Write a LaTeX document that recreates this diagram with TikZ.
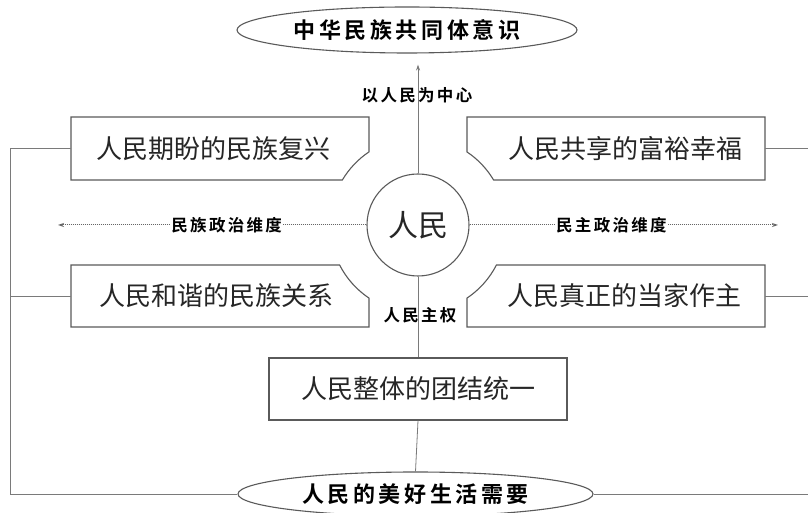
\documentclass[tikz,border=0pt]{standalone}
\usepackage{fontspec}
\usetikzlibrary{shapes.geometric,arrows.meta}
\newfontfamily\cjk{Noto Sans CJK SC}
\newfontfamily\cjktitle{Noto Sans CJK SC}[UprightFont=* Bold,LetterSpace=16]
\newfontfamily\cjksmall{Noto Sans CJK SC}[UprightFont=* Bold,LetterSpace=14]
\definecolor{linegray}{HTML}{7A7A7A}
\definecolor{dotgray}{HTML}{666666}
\definecolor{boxgray}{HTML}{5A5A5A}
\definecolor{textdark}{HTML}{262626}
\begin{document}
\begin{tikzpicture}[x=1pt,y=1pt,
  boxarea/.style={minimum width=298pt,minimum height=62pt,inner sep=0pt},
  boxline/.style={draw=boxgray,line width=1.1pt},
  conn/.style={draw=linegray,line width=0.8pt},
  tip/.style={-{Stealth[length=6pt,width=4pt]}},
  dimarrow/.style={draw=dotgray,densely dotted,line width=1pt,tip},
  boxtext/.style={font={\cjk\fontsize{26pt}{30pt}\selectfont},text=textdark,inner sep=0pt},
  titletext/.style={font={\cjktitle\fontsize{22pt}{26pt}\selectfont},text=black},
  smalllabel/.style={font={\cjksmall\fontsize{16.5pt}{19pt}\selectfont},text=black,inner sep=1pt}
]
\fill[white] (0,0) rectangle (808,513);
\useasboundingbox (0,0) rectangle (808,513);

% center circle
\node[circle,draw=boxgray,line width=1.1pt,minimum size=102pt,inner sep=0pt,
      font={\cjk\fontsize{30pt}{34pt}\selectfont},text=textdark] (c) at (418,288) {人民};

% ellipses
\node[ellipse,draw=boxgray,line width=1.1pt,minimum width=340pt,minimum height=46pt,
      inner sep=0pt,titletext] (top) at (407,483) {中华民族共同体意识};
\node[ellipse,draw=boxgray,line width=1.1pt,minimum width=355pt,minimum height=44pt,
      inner sep=0pt,titletext] (bot) at (415.5,19) {人民的美好生活需要};

% boxes (areas + text)
\node[boxarea,label={[boxtext,xshift=-7pt]center:人民期盼的民族复兴}] (tl) at (220,364.5) {};
\node[boxarea,label={[boxtext,xshift=9pt]center:人民共享的富裕幸福}] (tr) at (616,364.5) {};
\node[boxarea,label={[boxtext,xshift=-4pt]center:人民和谐的民族关系}] (bl) at (220,217) {};
\node[boxarea,label={[boxtext,xshift=8pt]center:人民真正的当家作主}] (br) at (616,217) {};
\node[boxarea,boxline,boxtext] (bc) at (418,124) {人民整体的团结统一};

% box outlines with concave notches
\draw[boxline] (71,396) -- (369,396) -- (369,361.1)
  arc[start angle=123.8,end angle=149.2,radius=88] -- (71,333) -- cycle;
\draw[boxline] (467,396) -- (765,396) -- (765,333) -- (493.6,333)
  arc[start angle=30.8,end angle=56.2,radius=88] -- cycle;
\draw[boxline] (71,248) -- (339.6,248)
  arc[start angle=207.04,end angle=236.2,radius=88] -- (369,186) -- (71,186) -- cycle;
\draw[boxline] (467,214.9) arc[start angle=303.8,end angle=332.96,radius=88]
  -- (765,248) -- (765,186) -- (467,186) -- cycle;

% vertical axis
\draw[conn,tip,shorten >=11pt] (c.north) -- (c.north |- top.south);
\node[smalllabel] (l1) at (417,418) {以人民为中心};
\draw[conn] (c.south) -- (bc.north);
\node[smalllabel] (l4) at (420,198) {人民主权};
\draw[conn] (bc.south) -- (bot.north);

% horizontal dotted axes
\coordinate (lt) at (58,288);
\coordinate (rt) at (778,288);
\draw[dimarrow] (c.west) -- (lt)
  node[pos=0.453,smalllabel,fill=white] (l2) {民族政治维度};
\draw[dimarrow] (c.east) -- (rt)
  node[pos=0.46,smalllabel,fill=white] (l3) {民主政治维度};

% side brackets
\coordinate (lx) at (10,0);
\coordinate (rx) at (808,0);
\draw[conn] (tl.west) -| (lx |- bot.west) -- (bot.west);
\draw[conn] (bl.west) -- (lx |- bl.west);
\draw[conn] (tr.east) -- (rx |- tr.east);
\draw[conn] (br.east) -- (rx |- br.east);
\draw[conn] (bot.east) -- (rx |- bot.east);
\end{tikzpicture}
\end{document}
